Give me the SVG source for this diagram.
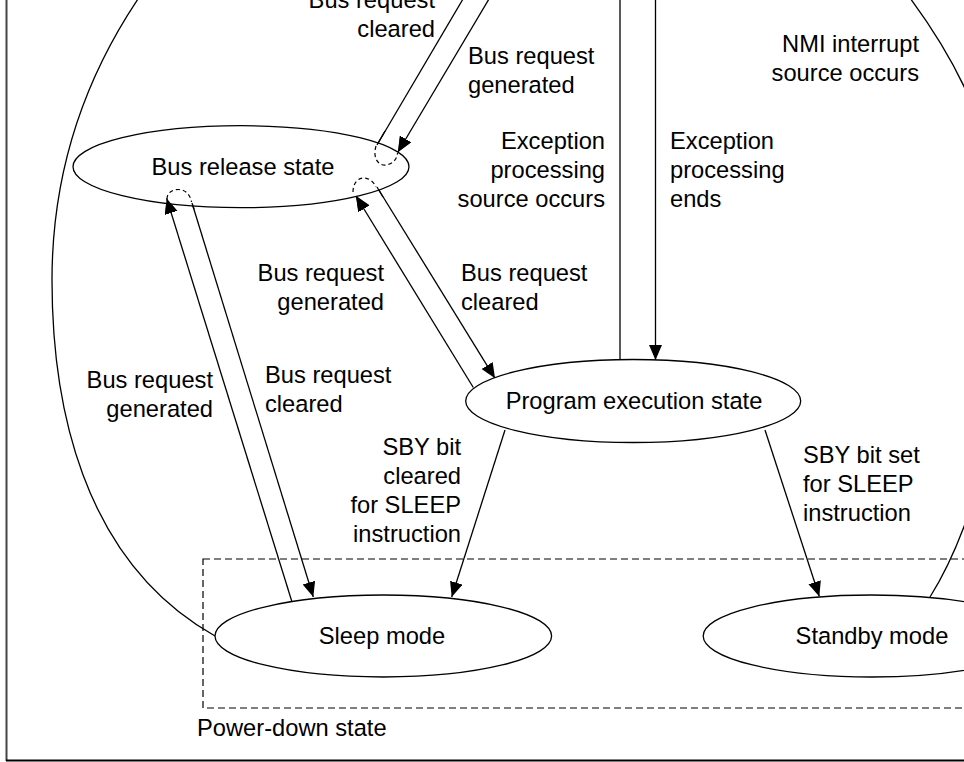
<svg xmlns="http://www.w3.org/2000/svg" width="964" height="762" viewBox="0 0 964 762">
  <style>
    text { font-family: "Liberation Sans", Arial, sans-serif; font-size: 23.7px; fill: #000; }
    .node { fill: #fff; stroke: #000; stroke-width: 1.3; }
    .edge { fill: none; stroke: #000; stroke-width: 1.3; }
    .arrow { fill: none; stroke: #000; stroke-width: 1.3; marker-end: url(#head); }
    .loop { fill: none; stroke: #000; stroke-width: 1.2; stroke-dasharray: 4 3; }
    .end { text-anchor: end; }
    .mid { text-anchor: middle; }
  </style>
  <defs>
    <marker id="head" markerUnits="userSpaceOnUse" markerWidth="16" markerHeight="14" refX="15" refY="6.5" orient="auto">
      <path d="M0,0 L15,6.5 L0,13 Z" fill="#000"/>
    </marker>
  </defs>

  <rect width="964" height="762" fill="#fff"/>

  <!-- frame -->
  <g id="frame">
    <line x1="6.5" y1="0" x2="6.5" y2="761" stroke="#444" stroke-width="2"/>
    <line x1="6" y1="760.5" x2="964" y2="760.5" stroke="#000" stroke-width="2"/>
  </g>

  <!-- power-down region -->
  <g id="power-down">
    <rect x="203" y="559" width="800" height="149" fill="none" stroke="#000" stroke-width="1.2" stroke-dasharray="7 4"/>
    <text x="197" y="736">Power-down state</text>
  </g>

  <!-- connectors -->
  <g id="connectors">
    <!-- return arcs from the power-down modes -->
    <path class="edge" d="M138,-1 C65,108 52,210 52,280 C52,400 80,560 215,636"/>
    <path class="edge" d="M910,-2 C930,25 950,55 968,95"/>
    <path class="edge" d="M930,597 C942,578 958,545 970,510"/>

    <!-- exception processing -->
    <line class="edge" x1="620" y1="0" x2="620" y2="360"/>
    <line class="arrow" x1="655.5" y1="0" x2="655.5" y2="360"/>

    <!-- bus release (upper pair) -->
    <line class="edge" x1="377" y1="145" x2="463" y2="-1"/>
    <line class="arrow" x1="489" y1="-1" x2="398" y2="152"/>
    <path class="loop" d="M376,146 C372,160 380,166 386,165 C392,164 397,160 397.5,153"/>

    <!-- bus release <-> program execution -->
    <line class="arrow" x1="473.3" y1="387.5" x2="356" y2="196"/>
    <line class="arrow" x1="377" y1="187" x2="495" y2="378.3"/>
    <path class="loop" d="M353,192 C353,183 358,178 364,178 C369,178 374,182 376,187"/>

    <!-- bus release <-> sleep -->
    <line class="arrow" x1="291.7" y1="601" x2="166.7" y2="198.5"/>
    <line class="arrow" x1="192" y1="203" x2="313.3" y2="597"/>
    <path class="loop" d="M167,199 C167,193 172,189.5 178.5,189.5 C185,189.5 190,194 191.5,202"/>

    <!-- SLEEP instruction -->
    <line class="arrow" x1="505" y1="430" x2="451.7" y2="597"/>
    <line class="arrow" x1="765" y1="430" x2="819.3" y2="596.5"/>
  </g>

  <!-- states -->
  <g id="bus-release">
    <ellipse class="node" cx="241" cy="166.7" rx="168" ry="41"/>
    <text class="mid" x="243" y="175">Bus release state</text>
  </g>
  <g id="program-execution">
    <ellipse class="node" cx="633.2" cy="401" rx="167.5" ry="41.5"/>
    <text class="mid" x="634" y="409">Program execution state</text>
  </g>
  <g id="sleep-mode">
    <ellipse class="node" cx="383.3" cy="636" rx="168.3" ry="41"/>
    <text class="mid" x="382" y="644">Sleep mode</text>
  </g>
  <g id="standby-mode">
    <ellipse class="node" cx="871.5" cy="636" rx="168.3" ry="41"/>
    <text class="mid" x="872" y="644">Standby mode</text>
  </g>

  <!-- redraw line ends that sit inside the bus release ellipse -->
  <g id="bus-release-ends">
    <line class="edge" x1="377" y1="145" x2="385" y2="131"/>
    <line class="arrow" x1="402" y1="145" x2="398" y2="152"/>
    <path class="loop" d="M376,146 C372,160 380,166 386,165 C392,164 397,160 397.5,153"/>
    <line class="arrow" x1="361" y1="204" x2="356" y2="196"/>
    <line class="edge" x1="377" y1="187" x2="383" y2="197"/>
    <path class="loop" d="M353,192 C353,183 358,178 364,178 C369,178 374,182 376,187"/>
    <line class="arrow" x1="169" y1="206" x2="166.7" y2="198.5"/>
    <line class="edge" x1="192" y1="203" x2="194" y2="209"/>
    <path class="loop" d="M167,199 C167,193 172,189.5 178.5,189.5 C185,189.5 190,194 191.5,202"/>
  </g>

  <!-- transition labels -->
  <g id="labels">
    <text class="end" x="435" y="8">Bus request</text>
    <text class="end" x="435" y="37">cleared</text>
    <text x="468" y="64">Bus request</text>
    <text x="468" y="93">generated</text>
    <text class="end" x="919" y="52">NMI interrupt</text>
    <text class="end" x="919" y="81">source occurs</text>
    <text class="end" x="605" y="149">Exception</text>
    <text class="end" x="605" y="178">processing</text>
    <text class="end" x="605" y="207">source occurs</text>
    <text x="670" y="149">Exception</text>
    <text x="670" y="178">processing</text>
    <text x="670" y="207">ends</text>
    <text class="end" x="384" y="281">Bus request</text>
    <text class="end" x="384" y="310">generated</text>
    <text x="461" y="281">Bus request</text>
    <text x="461" y="310">cleared</text>
    <text class="end" x="213" y="388">Bus request</text>
    <text class="end" x="213" y="417">generated</text>
    <text x="265" y="383">Bus request</text>
    <text x="265" y="412">cleared</text>
    <text class="end" x="461" y="455">SBY bit</text>
    <text class="end" x="461" y="484">cleared</text>
    <text class="end" x="461" y="513">for SLEEP</text>
    <text class="end" x="461" y="542">instruction</text>
    <text x="803" y="463">SBY bit set</text>
    <text x="803" y="492">for SLEEP</text>
    <text x="803" y="521">instruction</text>
  </g>
</svg>
